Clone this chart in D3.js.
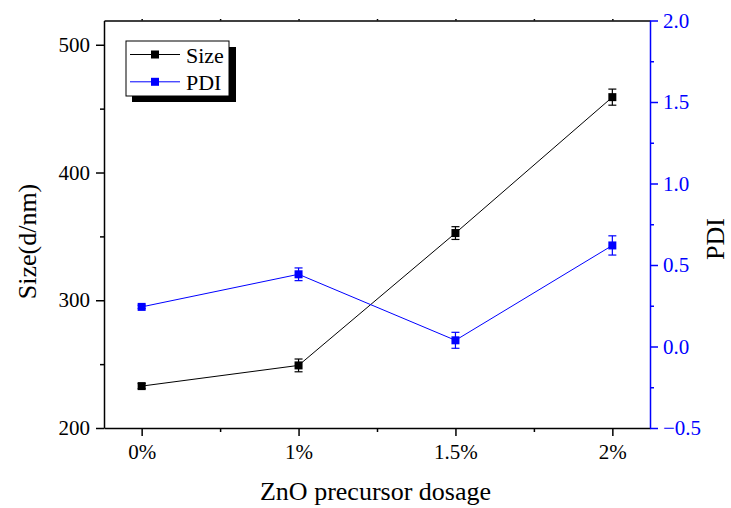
<!DOCTYPE html>
<html>
<head>
<meta charset="utf-8">
<script src="https://cdn.jsdelivr.net/npm/d3@7"></script>
<style>
  html, body { margin: 0; padding: 0; background: #fff; }
  svg { display: block; font-family: "Liberation Serif", "Times New Roman", serif; }
</style>
</head>
<body>
<svg id="chart" width="731" height="508"></svg>
<script>
// Dosage categories and measured values
const categories = ["0%", "1%", "1.5%", "2%"];
const sizeValues = [232.8, 249, 352.6, 459];
const sizeErrors = [2, 5, 5, 6.3];
const pdiValues = [0.243, 0.443, 0.038, 0.62];
const pdiErrors = [0.01, 0.039, 0.049, 0.059];
const sizeTicks = [200, 300, 400, 500];
const pdiTicks = [-0.5, 0.0, 0.5, 1.0, 1.5, 2.0];

const svg = d3.select("#chart");
const plotL = 104, plotR = 650, plotT = 20.5, plotB = 428;
const blue = "#0000ff";

const x = d3.scaleLinear().domain([-0.24, 3.24]).range([plotL, plotR]);
const ySize = d3.scaleLinear().domain([200, 519]).range([plotB, plotT]);
const yPdi = d3.scaleLinear().domain([-0.5, 2.0]).range([plotB, plotT]);

// Bottom axis with major ticks at categories and minor ticks between
svg.append("g").attr("transform", `translate(0,${plotB})`)
  .call(d3.axisBottom(x).tickValues(d3.range(categories.length))
    .tickFormat(i => categories[i]).tickSizeInner(8).tickSizeOuter(0).tickPadding(8));
svg.append("g").attr("transform", `translate(0,${plotB})`)
  .call(d3.axisBottom(x).tickValues([0.5, 1.5, 2.5]).tickFormat("").tickSizeInner(4).tickSizeOuter(0))
  .call(g => g.select(".domain").remove());

// Top frame with faint ticks
svg.append("g").attr("transform", `translate(0,${plotT})`)
  .call(d3.axisTop(x).tickValues([0, 0.5, 1, 1.5, 2, 2.5, 3]).tickFormat("").tickSizeInner(1.5).tickSizeOuter(0));

// Left axis (Size)
svg.append("g").attr("transform", `translate(${plotL},0)`)
  .call(d3.axisLeft(ySize).tickValues(sizeTicks).tickFormat(d3.format("d"))
    .tickSizeInner(8).tickSizeOuter(0).tickPadding(6));
svg.append("g").attr("transform", `translate(${plotL},0)`)
  .call(d3.axisLeft(ySize).tickValues([250, 350, 450]).tickFormat("").tickSizeInner(4).tickSizeOuter(0))
  .call(g => g.select(".domain").remove());

// Right axis (PDI) in blue
svg.append("g").attr("class", "pdi-axis").attr("transform", `translate(${plotR},0)`)
  .call(d3.axisRight(yPdi).tickValues(pdiTicks).tickFormat(d3.format(".1f"))
    .tickSizeInner(8).tickSizeOuter(0).tickPadding(5));
svg.append("g").attr("class", "pdi-axis").attr("transform", `translate(${plotR},0)`)
  .call(d3.axisRight(yPdi).tickValues([-0.25, 0.25, 0.75, 1.25, 1.75]).tickFormat("").tickSizeInner(4).tickSizeOuter(0))
  .call(g => g.select(".domain").remove());

svg.selectAll(".domain, .tick line").attr("stroke-width", 1.5);
svg.selectAll(".tick text").attr("font-size", 21).attr("font-family", "Liberation Serif").attr("fill", "#000");
svg.selectAll(".pdi-axis .tick text").attr("fill", blue);
svg.selectAll(".pdi-axis .domain, .pdi-axis .tick line").attr("stroke", blue);

// Axis titles
svg.append("text").attr("x", 375.5).attr("y", 500).attr("text-anchor", "middle")
  .attr("font-size", 26).text("ZnO precursor dosage");
svg.append("text").attr("transform", "translate(36,241.5) rotate(-90)").attr("text-anchor", "middle")
  .attr("font-size", 26).text("Size(d/nm)");
svg.append("text").attr("transform", "translate(724,239) rotate(-90)").attr("text-anchor", "middle")
  .attr("font-size", 26).text("PDI");

// Draws one series: connecting line, error bars, square markers
function drawSeries(values, errors, y, color) {
  const pts = values.map((v, i) => ({ i, v, e: errors[i] }));
  const g = svg.append("g");
  g.append("path").datum(pts)
    .attr("fill", "none").attr("stroke", color).attr("stroke-width", 1)
    .attr("d", d3.line().x(d => x(d.i)).y(d => y(d.v)));
  const eb = g.selectAll(".err").data(pts).enter().append("g").attr("stroke", color).attr("stroke-width", 1.2);
  eb.append("line").attr("x1", d => x(d.i)).attr("x2", d => x(d.i))
    .attr("y1", d => y(d.v - d.e)).attr("y2", d => y(d.v + d.e));
  eb.append("line").attr("x1", d => x(d.i) - 4).attr("x2", d => x(d.i) + 4)
    .attr("y1", d => y(d.v - d.e)).attr("y2", d => y(d.v - d.e));
  eb.append("line").attr("x1", d => x(d.i) - 4).attr("x2", d => x(d.i) + 4)
    .attr("y1", d => y(d.v + d.e)).attr("y2", d => y(d.v + d.e));
  g.selectAll("rect").data(pts).enter().append("rect")
    .attr("x", d => x(d.i) - 4).attr("y", d => y(d.v) - 4)
    .attr("width", 8).attr("height", 8).attr("fill", color);
}
drawSeries(sizeValues, sizeErrors, ySize, "#000");
drawSeries(pdiValues, pdiErrors, yPdi, blue);

// Legend with drop shadow
const lg = svg.append("g");
lg.append("rect").attr("x", 132).attr("y", 47).attr("width", 104).attr("height", 55).attr("fill", "#000");
lg.append("rect").attr("x", 126).attr("y", 41).attr("width", 103).attr("height", 55)
  .attr("fill", "#fff").attr("stroke", "#000").attr("stroke-width", 1);
const legendItems = [{ name: "Size", color: "#000" }, { name: "PDI", color: blue }];
legendItems.forEach((it, k) => {
  const cy = 54.5 + k * 27.3;
  lg.append("line").attr("x1", 130).attr("x2", 180).attr("y1", cy).attr("y2", cy)
    .attr("stroke", it.color).attr("stroke-width", 1);
  lg.append("rect").attr("x", 151).attr("y", cy - 4).attr("width", 8).attr("height", 8).attr("fill", it.color);
  lg.append("text").attr("x", 186).attr("y", cy + 8).attr("font-size", 22).text(it.name);
});
</script>
</body>
</html>
